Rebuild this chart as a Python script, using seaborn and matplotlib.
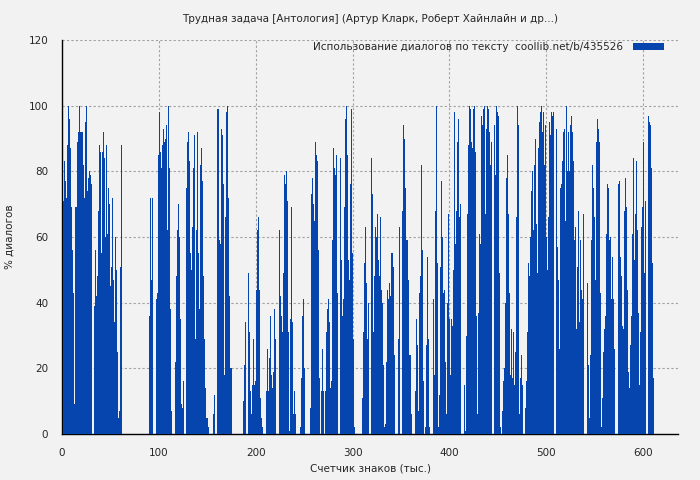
import numpy as np
import pandas as pd
import matplotlib
matplotlib.use("Agg")
import matplotlib.pyplot as plt
import seaborn as sns

title = "Трудная задача [Антология] (Артур Кларк, Роберт Хайнлайн и др...)"
legend_label = "Использование диалогов по тексту  coollib.net/b/435526"
x_label = "Счетчик знаков (тыс.)"
y_label = "% диалогов"
x_ticks = [0, 100, 200, 300, 400, 500, 600]
y_ticks = [0, 20, 40, 60, 80, 100, 120]

seg1 = [83, 71, 83, 77, 72, 88, 100, 96, 87, 69, 56, 43, 9, 69, 69, 89, 92, 100, 92, 92,
        92, 82, 72, 95, 100, 74, 78, 80, 79, 76, 70, 51, 61, 39, 56, 42, 48, 68, 88, 86,
        55, 86, 92, 84, 60, 88, 61, 75, 70]
seg2 = [45, 51, 72, 47, 34, 60, 50, 25, 5, 7, 51, 88, 61, 17,
        0, 0, 0, 0, 0, 0, 0, 0, 0, 0, 0, 0, 0, 0, 0, 0, 0, 0, 0, 0, 0, 0, 0, 0, 0, 0,
        36, 72, 47, 72, 73, 74, 77, 73, 41, 43, 85, 98]
seg3 = [86, 81, 88, 93, 89, 90, 94, 62, 100, 81, 38, 7, 0, 0, 0, 22, 48, 62, 70, 60,
        35, 9, 8, 16, 8, 11, 43, 75, 89, 92, 83, 55, 50, 63, 81, 91, 29, 62, 92, 55,
        38, 82, 87, 77, 48, 29, 14, 5, 5, 2, 0, 0]
seg4 = [0, 0, 6, 12, 6, 31, 99, 99, 99, 59, 58, 93, 91, 76, 18, 66, 98, 100, 72, 42, 20, 20,
        0, 0, 0, 0, 0, 0, 0, 0, 0, 0, 0,
        10, 21, 34, 68, 59, 43, 49, 31, 13, 6, 15, 29, 15, 16, 44, 62, 66, 44, 11]
seg5 = [5, 2, 0, 0, 0, 13, 26, 13, 23, 36, 18, 14, 19, 38, 29, 18, 10, 45, 70, 62,
        42, 36, 31, 49, 79, 76, 80, 71, 31, 1, 35, 69, 34, 6, 13, 6, 0, 0, 0, 0,
        2, 17, 36, 41, 20, 0, 0, 0, 0, 0, 0]
seg6 = [8, 73, 78, 70, 65, 89, 85, 83, 56, 17, 0, 13, 26, 13, 0, 13, 31, 38, 41, 34,
        14, 16, 59, 87, 81, 79, 85, 43, 41, 70, 77, 84, 53, 36, 41, 69, 96, 100, 85, 53,
        47, 76, 99, 55, 29, 2, 0, 0, 0, 0, 0, 0]
seg7 = [0, 11, 31, 52, 63, 46, 29, 40, 72, 88, 71, 84, 73, 31, 48, 63, 60, 67, 53, 48,
        66, 44, 40, 21, 2, 3, 22, 44, 41, 46, 42, 55, 55, 51, 24, 0, 0, 0, 29, 63,
        80, 100, 74, 68, 94, 90, 75, 59, 59, 47, 24, 24]
seg8 = [6, 0, 0, 0, 13, 35, 27, 7, 43, 48, 82, 56, 16, 0, 2, 27, 54, 29, 2, 0,
        34, 69, 67, 41, 18, 68, 100, 52, 2, 12, 51, 77, 60, 43, 44, 22, 6, 40, 67, 35,
        18, 35, 33, 50, 98, 58, 68, 89, 96, 66, 70]
seg9 = [72, 68, 76, 53, 15, 1, 30, 67, 88, 100, 99, 89, 87, 99, 100, 86, 36, 6, 37, 61,
        58, 97, 94, 99, 100, 67, 93, 100, 99, 92, 82, 89, 66, 100, 98, 94, 79, 100, 98, 97,
        49, 2, 0, 7, 16, 20, 40, 78, 85, 67, 43, 18]
seg10 = [32, 17, 31, 15, 25, 66, 100, 94, 6, 17, 24, 15, 13, 26, 13, 8, 16, 31, 52, 48,
         60, 74, 80, 62, 82, 90, 64, 49, 87, 95, 98, 100, 92, 98, 82, 94, 60, 50, 66, 95,
         91, 98, 97, 98, 73, 58, 47, 93, 57, 47, 26, 75]
seg11 = [76, 83, 92, 93, 65, 100, 80, 92, 80, 94, 97, 92, 83, 59, 63, 32, 51, 68, 34, 59,
         44, 41, 67, 80, 84, 82, 68, 46, 21, 5, 24, 59, 82, 75, 66, 47, 89, 96, 93, 89,
         43, 2, 11, 25, 32, 36, 61, 76, 75, 59, 60, 41]
seg12 = [54, 41, 26, 46, 40, 61, 37, 76, 77, 54, 48, 33, 32, 68, 78, 69, 44, 19, 14, 27,
         36, 61, 84, 53, 67, 83, 62, 37, 15, 31, 63, 69, 89, 49, 71, 76, 100, 98, 97, 95,
         94, 81, 52, 17]

dialog_pct = (seg1 + seg2 + seg3 + seg4 + seg5 + seg6 + seg7 + seg8 + seg9 + seg10
              + seg11 + seg12)
chars_k = list(range(1, len(dialog_pct) + 1))

df = pd.DataFrame({"chars": chars_k, "pct": dialog_pct})

bg = "#f2f2f2"
bar_color = "#0645ad"
fs = 7.5

sns.set_style("white")
plt.rcParams["font.family"] = ["DejaVu Sans"]
plt.rcParams["font.size"] = fs

fig = plt.figure(figsize=(7, 4.8), dpi=100, facecolor=bg)
ax = fig.add_axes([62 / 700, 46 / 480, 616 / 700, 394 / 480])
ax.set_facecolor(bg)

sns.barplot(data=df, x="chars", y="pct", native_scale=True, orient="x",
            color=bar_color, saturation=1, width=0.92, linewidth=0,
            errorbar=None, label=legend_label, ax=ax, zorder=3)

ax.set_xlim(0, 636)
ax.set_ylim(0, 120)
ax.set_xticks(x_ticks)
ax.set_yticks(y_ticks)
ax.set_xticklabels([str(t) for t in x_ticks], fontsize=fs)
ax.set_yticklabels([str(t) for t in y_ticks], fontsize=fs)
ax.grid(True, color="#a0a0a0", linestyle=(0, (2, 2)), linewidth=0.8, zorder=0)
ax.set_axisbelow(True)

for side in ["top", "right"]:
    ax.spines[side].set_visible(False)
for side in ["left", "bottom"]:
    ax.spines[side].set_color("black")
    ax.spines[side].set_linewidth(1.0)
ax.tick_params(axis="both", direction="out", length=4, width=1, color="black",
               labelsize=fs, pad=6)

ax.set_title(title, fontsize=fs, pad=13)
ax.set_xlabel(x_label, fontsize=fs, labelpad=4)
ax.set_ylabel(y_label, fontsize=fs, labelpad=10)

leg = ax.legend(loc="upper right", bbox_to_anchor=(0.981, 1.0), frameon=False,
                markerfirst=False, fontsize=fs, handlelength=3.0, handleheight=0.55,
                borderaxespad=0.0, borderpad=0.2, handletextpad=1.0)

fig.savefig("out.png", dpi=100, facecolor=bg)
